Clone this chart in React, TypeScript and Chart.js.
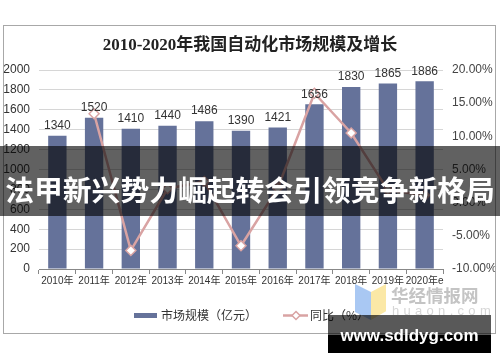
import React, { useEffect, useRef } from "react";
import { Chart, registerables } from "chart.js";
Chart.register(...registerables);

const chartTitle = "2010-2020年我国自动化市场规模及增长";
const years = ["2010年", "2011年", "2012年", "2013年", "2014年", "2015年", "2016年", "2017年", "2018年", "2019年", "2020年e"];
const marketSize = [1340, 1520, 1410, 1440, 1486, 1390, 1421, 1656, 1830, 1865, 1886];
const growth: (number | null)[] = [null, 13.4, -7.2, 2.1, 3.2, -6.5, 2.2, 16.5, 10.5, 1.9, 1.1];
const sizeLabel = "市场规模（亿元）";
const growthLabel = "同比（%）";
const bannerText = "法甲新兴势力崛起转会引领竞争新格局";
const watermarkName = "华经情报网";
const watermarkSite = "huaon.com";
const siteText = "www.sdldyg.com";

const BAR = "#65729a";
const LINE = "#d9a3a3";

const decor = {
  id: "decor",
  beforeDraw(chart: any) {
    const ctx = chart.ctx;
    ctx.save();
    ctx.fillStyle = "#ffffff";
    ctx.fillRect(0, 0, chart.width, chart.height);
    ctx.strokeStyle = "#a8a8a8";
    ctx.lineWidth = 1;
    ctx.strokeRect(3.5, 25.5, 492, 308);
    ctx.fillStyle = "#222";
    ctx.font = "bold 17px 'Liberation Serif', 'Noto Sans CJK SC'";
    ctx.textAlign = "center";
    ctx.textBaseline = "middle";
    ctx.fillText(chartTitle, 250, 45.5);
    ctx.restore();
  },
  afterDatasetsDraw(chart: any) {
    const ctx = chart.ctx;
    ctx.save();
    const meta = chart.getDatasetMeta(1);
    ctx.fillStyle = "#333";
    ctx.font = "12px 'Liberation Sans', Arial";
    ctx.textAlign = "center";
    ctx.textBaseline = "bottom";
    meta.data.forEach((bar: any, i: number) => {
      ctx.fillText(String(marketSize[i]), bar.x, bar.y - 4);
    });
    // legend
    const ly = 315.5;
    ctx.fillStyle = BAR;
    ctx.fillRect(134, ly - 2.5, 23, 5);
    ctx.fillStyle = "#333";
    ctx.font = "12px 'Noto Sans CJK SC'";
    ctx.textAlign = "left";
    ctx.textBaseline = "middle";
    ctx.fillText(sizeLabel, 161, ly);
    ctx.strokeStyle = LINE;
    ctx.lineWidth = 2.5;
    ctx.beginPath();
    ctx.moveTo(283, ly);
    ctx.lineTo(308, ly);
    ctx.stroke();
    ctx.fillStyle = "#fff";
    ctx.lineWidth = 1.5;
    ctx.beginPath();
    ctx.moveTo(296, ly - 4);
    ctx.lineTo(300, ly);
    ctx.lineTo(296, ly + 4);
    ctx.lineTo(292, ly);
    ctx.closePath();
    ctx.fill();
    ctx.stroke();
    ctx.fillStyle = "#333";
    ctx.fillText(growthLabel, 310, ly);
    ctx.restore();
  },
};

function App() {
  const ref = useRef<HTMLCanvasElement | null>(null);
  useEffect(() => {
    if (!ref.current) return;
    const chart = new Chart(ref.current, {
      type: "bar",
      data: {
        labels: years,
        datasets: [
          {
            type: "line",
            label: growthLabel,
            data: growth,
            yAxisID: "y1",
            borderColor: LINE,
            borderWidth: 2.5,
            pointStyle: "rectRot",
            pointRadius: 5,
            pointBackgroundColor: "#ffffff",
            pointBorderColor: LINE,
            pointBorderWidth: 1.5,
            tension: 0,
            spanGaps: false,
            order: 0,
          } as any,
          {
            type: "bar",
            label: sizeLabel,
            data: marketSize,
            yAxisID: "y",
            backgroundColor: BAR,
            categoryPercentage: 1,
            barPercentage: 0.5,
            order: 1,
          },
        ],
      },
      options: {
        responsive: false,
        animation: false,
        layout: { padding: { left: 3, right: 5, top: 70, bottom: 73 } },
        plugins: { legend: { display: false }, title: { display: false }, tooltip: { enabled: false } },
        scales: {
          x: {
            offset: true,
            grid: { display: true, drawOnChartArea: false, drawTicks: true, tickLength: 5, color: "#888", offset: true },
            border: { display: true, color: "#888" },
            ticks: { color: "#333", font: { size: 10, family: "'Liberation Sans', 'Noto Sans CJK SC'" }, padding: 1, maxRotation: 0, autoSkip: false },
            afterFit: (s: any) => { s.height = 20; },
          },
          y: {
            position: "left",
            min: 0,
            max: 2000,
            ticks: { stepSize: 200, color: "#333", font: { size: 12, family: "'Liberation Sans', Arial" }, padding: 9, callback: (v: any) => String(v) },
            grid: { color: "#d6d6d6", drawTicks: false },
            border: { display: false },
            afterFit: (s: any) => { s.width = 36; },
          },
          y1: {
            position: "right",
            min: -10,
            max: 20,
            ticks: { stepSize: 5, color: "#444", font: { size: 12, family: "'Liberation Sans', Arial" }, padding: 9, callback: (v: any) => Number(v).toFixed(2) + "%" },
            grid: { display: false, drawTicks: false },
            border: { display: false },
            afterFit: (s: any) => { s.width = 52; },
          },
        },
      } as any,
      plugins: [decor],
    });
    return () => chart.destroy();
  }, []);

  return (
    <div style={{ position: "fixed", left: 0, top: 0, width: 500, height: 362, overflow: "hidden", background: "#fff" }}>
      <canvas ref={ref} width={500} height={362} style={{ position: "absolute", left: 0, top: 0, width: 500, height: 362 }} />
      <div style={{ position: "absolute", left: 0, top: 146, width: 500, height: 70, background: "rgba(0,0,0,0.62)" }} />
      <div
        style={{
          position: "absolute", left: 0, top: 174, width: 500, height: 30, lineHeight: "30px", textAlign: "center",
          color: "#fff", fontWeight: 700, fontSize: 28.8, fontFamily: "'Noto Sans CJK SC'", whiteSpace: "nowrap",
        }}
      >
        {bannerText}
      </div>
      <div style={{ position: "absolute", left: 355, top: 284, width: 16, height: 36, background: "#a9c8f3", clipPath: "polygon(0 0, 100% 22%, 100% 100%, 0 78%)" }} />
      <div style={{ position: "absolute", left: 371, top: 284, width: 15, height: 36, background: "#fbe8a6", clipPath: "polygon(0 22%, 100% 0, 100% 76%, 0 100%)" }} />
      <div style={{ position: "absolute", left: 391, top: 284, height: 22, lineHeight: "22px", color: "#c4c4c4", fontWeight: 700, fontSize: 17.5, fontFamily: "'Noto Sans CJK SC'", whiteSpace: "nowrap" }}>
        {watermarkName}
      </div>
      <div style={{ position: "absolute", left: 392, top: 304, height: 14, lineHeight: "14px", color: "#d6d6d6", fontSize: 13, letterSpacing: 4.3, fontFamily: "'Liberation Sans'", whiteSpace: "nowrap" }}>
        {watermarkSite}
      </div>
      <div style={{ position: "absolute", left: 328, top: 315, width: 163, height: 20, background: "rgba(0,0,0,0.65)" }} />
      <div style={{ position: "absolute", left: 328, top: 335, width: 163, height: 18, background: "#000" }} />
      <div style={{ position: "absolute", left: 328, top: 327, width: 163, height: 18, lineHeight: "18px", textAlign: "center", color: "#fff", fontWeight: 700, fontSize: 17, fontFamily: "'Liberation Sans'", whiteSpace: "nowrap" }}>
        {siteText}
      </div>
    </div>
  );
}

export default App;
